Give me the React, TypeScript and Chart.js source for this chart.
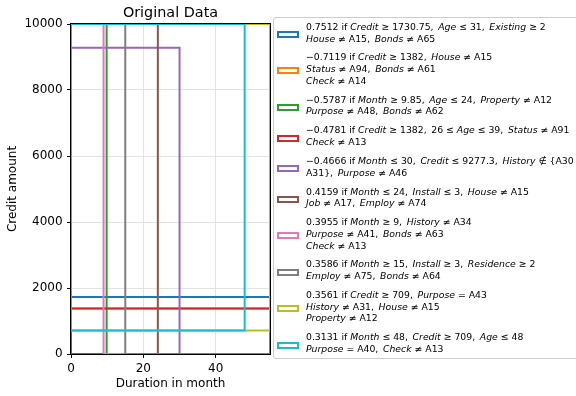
import React, { useEffect, useRef } from "react";
import { Chart, registerables } from "chart.js";

Chart.register(...registerables);

// Axis limits and tick values
const monthMax = 55;
const creditMax = 10000;
const xTicks = [0, 20, 40];
const yTicks = [0, 2000, 4000, 6000, 8000, 10000];

// Rule regions in (Duration in month, Credit amount) space
const ruleColors = [
  "#1f77b4", "#ff7f0e", "#2ca02c", "#d62728", "#9467bd",
  "#8c564b", "#e377c2", "#7f7f7f", "#bcbd22", "#17becf",
];
const monthLow = [0, 0, 9.85, 0, 0, 0, 9, 15, 0, 0];
const monthHigh = [55, 55, 55, 55, 30, 24, 55, 55, 55, 48];
const creditLow = [1730.75, 1382, 0, 1382, 0, 0, 0, 0, 709, 709];
const creditHigh = [10000, 10000, 10000, 10000, 9277.3, 10000, 10000, 10000, 10000, 10000];

// Rule descriptions; $...$ marks italic variable names
const ruleLabels: string[][] = [
  ["0.7512 if $Credit$ ≥ 1730.75, $Age$ ≤ 31, $Existing$ ≥ 2", "$House$ ≠ A15, $Bonds$ ≠ A65"],
  ["−0.7119 if $Credit$ ≥ 1382, $House$ ≠ A15", "$Status$ ≠ A94, $Bonds$ ≠ A61", "$Check$ ≠ A14"],
  ["−0.5787 if $Month$ ≥ 9.85, $Age$ ≤ 24, $Property$ ≠ A12", "$Purpose$ ≠ A48, $Bonds$ ≠ A62"],
  ["−0.4781 if $Credit$ ≥ 1382, 26 ≤ $Age$ ≤ 39, $Status$ ≠ A91", "$Check$ ≠ A13"],
  ["−0.4666 if $Month$ ≤ 30, $Credit$ ≤ 9277.3, $History$ ∉ {A30", "A31}, $Purpose$ ≠ A46"],
  ["0.4159 if $Month$ ≤ 24, $Install$ ≤ 3, $House$ ≠ A15", "$Job$ ≠ A17, $Employ$ ≠ A74"],
  ["0.3955 if $Month$ ≥ 9, $History$ ≠ A34", "$Purpose$ ≠ A41, $Bonds$ ≠ A63", "$Check$ ≠ A13"],
  ["0.3586 if $Month$ ≥ 15, $Install$ ≥ 3, $Residence$ ≥ 2", "$Employ$ ≠ A75, $Bonds$ ≠ A64"],
  ["0.3561 if $Credit$ ≥ 709, $Purpose$ = A43", "$History$ ≠ A31, $House$ ≠ A15", "$Property$ ≠ A12"],
  ["0.3131 if $Month$ ≤ 48, $Credit$ ≥ 709, $Age$ ≤ 48", "$Purpose$ = A40, $Check$ ≠ A13"],
];

const FONT = "'DejaVu Sans', sans-serif";

// Draws the black axes frame, the title and both axis captions
const framePlugin = {
  id: "frameAndCaptions",
  afterDatasetsDraw(chart: any) {
    const { ctx, chartArea: a } = chart;
    ctx.save();
    ctx.strokeStyle = "#000";
    ctx.lineWidth = 1;
    ctx.strokeRect(a.left - 0.5, a.top - 0.5, a.right - a.left + 1, a.bottom - a.top + 1);
    ctx.fillStyle = "#000";
    ctx.textAlign = "center";
    ctx.textBaseline = "middle";
    const cx = (a.left + a.right) / 2;
    ctx.font = `14.4px ${FONT}`;
    ctx.fillText("Original Data", cx, 13);
    ctx.font = `12px ${FONT}`;
    ctx.fillText("Duration in month", cx, 384);
    ctx.translate(13, (a.top + a.bottom) / 2);
    ctx.rotate(-Math.PI / 2);
    ctx.fillText("Credit amount", 0, 0);
    ctx.restore();
  },
};

function renderLine(line: string, key: number) {
  const parts = line.replace(/, /g, ",\u2002").split("$");
  return (
    <div key={key}>
      {parts.map((p, i) =>
        i % 2 === 1 ? (
          <span key={i} style={{ fontStyle: "italic" }}>{p}</span>
        ) : (
          <span key={i}>{p}</span>
        )
      )}
    </div>
  );
}

export default function App() {
  const canvasRef = useRef<HTMLCanvasElement | null>(null);

  useEffect(() => {
    const canvas = canvasRef.current;
    if (!canvas) return;
    const datasets = ruleColors.map((color, i) => ({
      label: `rule ${i + 1}`,
      data: [
        { x: monthLow[i], y: creditLow[i] },
        { x: monthHigh[i], y: creditLow[i] },
        { x: monthHigh[i], y: creditHigh[i] },
        { x: monthLow[i], y: creditHigh[i] },
        { x: monthLow[i], y: creditLow[i] },
      ],
      showLine: true,
      borderColor: color,
      backgroundColor: color,
      borderWidth: 2,
      borderCapStyle: "square" as const,
      borderJoinStyle: "miter" as const,
      pointRadius: 0,
      fill: false,
      tension: 0,
      clip: 0,
      order: -i,
    }));

    const chart = new Chart(canvas, {
      type: "scatter",
      data: { datasets },
      options: {
        animation: false,
        responsive: false,
        devicePixelRatio: 1,
        events: [],
        layout: { padding: { left: 0, top: 24, right: 306, bottom: 0 } },
        plugins: {
          legend: { display: false },
          title: { display: false },
          tooltip: { enabled: false },
        },
        scales: {
          x: {
            type: "linear",
            min: 0,
            max: monthMax,
            border: { display: false },
            grid: { color: "#e3e3e3", lineWidth: 1, tickColor: "#000", tickLength: 4, tickWidth: 1 },
            ticks: {
              color: "#000",
              padding: 3.5,
              maxRotation: 0,
              font: { family: FONT, size: 12 },
              callback: (v: any) => String(v),
            },
            afterBuildTicks: (s: any) => {
              s.ticks = xTicks.map((value) => ({ value }));
            },
            afterFit: (s: any) => {
              s.height = 42;
            },
          },
          y: {
            type: "linear",
            min: 0,
            max: creditMax,
            border: { display: false },
            grid: { color: "#e3e3e3", lineWidth: 1, tickColor: "#000", tickLength: 4, tickWidth: 1 },
            ticks: {
              color: "#000",
              padding: 4.4,
              font: { family: FONT, size: 12 },
              callback: (v: any) => String(v),
            },
            afterBuildTicks: (s: any) => {
              s.ticks = yTicks.map((value) => ({ value }));
            },
            afterFit: (s: any) => {
              s.width = 71;
            },
          },
        },
      },
      plugins: [framePlugin],
    });
    return () => chart.destroy();
  }, []);

  return (
    <div
      style={{
        position: "absolute",
        left: 0,
        top: 0,
        width: 576,
        height: 396,
        overflow: "hidden",
        background: "#fff",
      }}
    >
      <canvas ref={canvasRef} width={576} height={396} style={{ display: "block" }} />
      <div
        style={{
          position: "absolute",
          left: 273,
          top: 17,
          width: 340,
          height: 342,
          boxSizing: "border-box",
          border: "1px solid #cccccc",
          borderRadius: 3,
          background: "rgba(255,255,255,0.8)",
        }}
      />
      <div
        style={{
          position: "absolute",
          left: 306,
          top: 20.85,
          fontFamily: FONT,
          fontSize: 9.3,
          lineHeight: "11.7px",
          color: "#000",
          whiteSpace: "nowrap",
        }}
      >
        {ruleLabels.map((lines, i) => (
          <div key={i} style={{ position: "relative", marginBottom: 7.2 }}>
            <div
              style={{
                position: "absolute",
                left: -29,
                top: "calc(50% - 1.5px)",
                width: 22,
                height: 7,
                boxSizing: "border-box",
                border: `2px solid ${ruleColors[i]}`,
                background: "#fff",
              }}
            />
            {lines.map((l, j) => renderLine(l, j))}
          </div>
        ))}
      </div>
    </div>
  );
}
